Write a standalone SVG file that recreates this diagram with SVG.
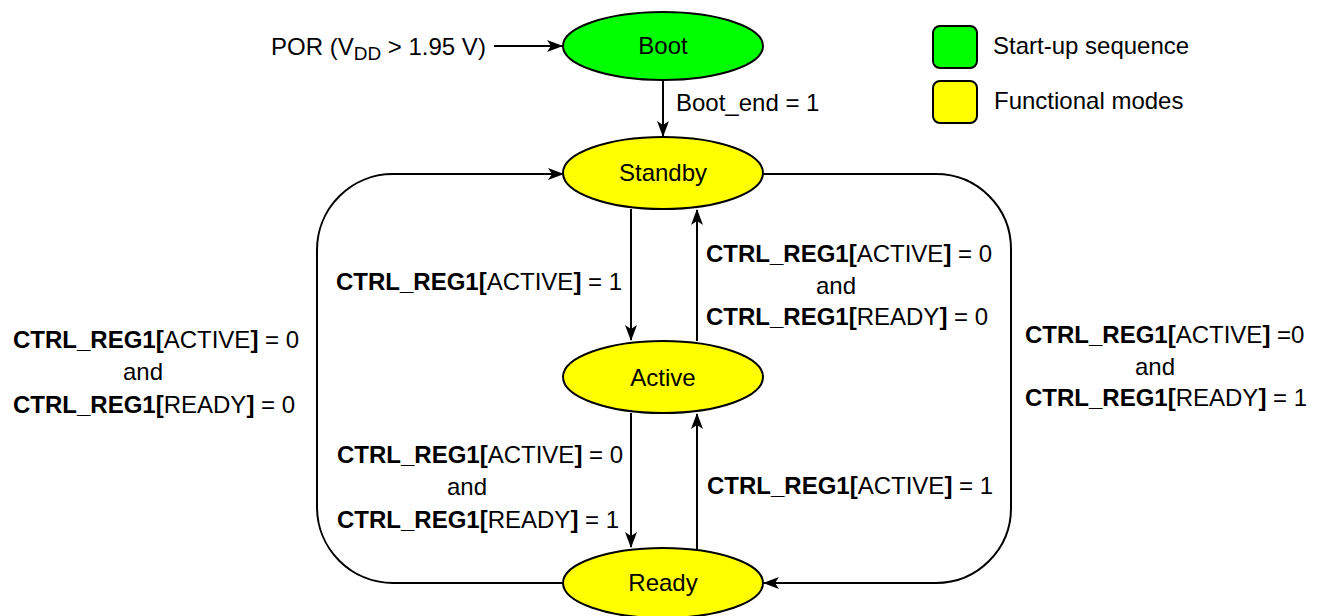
<svg xmlns="http://www.w3.org/2000/svg" width="1319" height="616" viewBox="0 0 1319 616">
<style>
text{font-family:"Liberation Sans",Arial,Helvetica,sans-serif;font-size:24px;fill:#000}
.b{font-weight:bold}
.node{stroke:#000;stroke-width:2}
.g{fill:#00ff00}
.y{fill:#ffff00}
.c{fill:none;stroke:#000;stroke-width:2}
.m{text-anchor:middle}
</style>
<defs>
<marker id="ah" markerUnits="userSpaceOnUse" markerWidth="16" markerHeight="12" refX="15" refY="6" orient="auto">
<path d="M0,0 L16,6 L0,12 L4,6 z" fill="#000"/>
</marker>
</defs>
<g id="connectors">
<path class="c" d="M494,46 H562" marker-end="url(#ah)"/>
<path class="c" d="M663,80 V136" marker-end="url(#ah)"/>
<path class="c" d="M631,209 V340" marker-end="url(#ah)"/>
<path class="c" d="M697,341 V210" marker-end="url(#ah)"/>
<path class="c" d="M631,413 V547" marker-end="url(#ah)"/>
<path class="c" d="M697,549 V414" marker-end="url(#ah)"/>
<path class="c" d="M563,583 H393 A76,76 0 0 1 317,507 V250 A76,76 0 0 1 393,174 H563" marker-end="url(#ah)"/>
<path class="c" d="M763,174 H936 A75,75 0 0 1 1011,249 V508 A75,75 0 0 1 936,583 H764" marker-end="url(#ah)"/>
</g>
<g id="por-label"><text x="271" y="55">POR (V<tspan font-size="19" dy="5">DD</tspan><tspan dy="-5"> &gt; 1.95 V)</tspan></text></g>
<g id="boot"><ellipse class="node g" cx="663" cy="46" rx="100" ry="34"/><text class="m" x="663" y="54">Boot</text></g>
<g id="standby"><ellipse class="node y" cx="663" cy="173" rx="100" ry="36"/><text class="m" x="663" y="181">Standby</text></g>
<g id="active"><ellipse class="node y" cx="663" cy="377" rx="100" ry="36"/><text class="m" x="663" y="386">Active</text></g>
<g id="ready"><ellipse class="node y" cx="663" cy="583" rx="100" ry="35"/><text class="m" x="663" y="591">Ready</text></g>
<g id="legend">
<rect class="node g" x="933" y="26" width="44" height="42" rx="7"/>
<text x="993" y="54">Start-up sequence</text>
<rect class="node y" x="933" y="81" width="44" height="42" rx="7"/>
<text x="994" y="109">Functional modes</text>
</g>
<g id="labels">
<text x="676" y="111">Boot_end = 1</text>
<text x="336" y="290"><tspan class="b">CTRL_REG1[</tspan>ACTIVE<tspan class="b">]</tspan> = 1</text>
<text x="706" y="262"><tspan class="b">CTRL_REG1[</tspan>ACTIVE<tspan class="b">]</tspan> = 0</text>
<text class="m" x="836" y="294">and</text>
<text x="706" y="325"><tspan class="b">CTRL_REG1[</tspan>READY<tspan class="b">]</tspan> = 0</text>
<text x="13" y="348"><tspan class="b">CTRL_REG1[</tspan>ACTIVE<tspan class="b">]</tspan> = 0</text>
<text class="m" x="143" y="380">and</text>
<text x="13" y="413"><tspan class="b">CTRL_REG1[</tspan>READY<tspan class="b">]</tspan> = 0</text>
<text x="1025" y="343"><tspan class="b">CTRL_REG1[</tspan>ACTIVE<tspan class="b">]</tspan> =0</text>
<text class="m" x="1155" y="375">and</text>
<text x="1025" y="406"><tspan class="b">CTRL_REG1[</tspan>READY<tspan class="b">]</tspan> = 1</text>
<text x="337" y="463"><tspan class="b">CTRL_REG1[</tspan>ACTIVE<tspan class="b">]</tspan> = 0</text>
<text class="m" x="467" y="495">and</text>
<text x="337" y="528"><tspan class="b">CTRL_REG1[</tspan>READY<tspan class="b">]</tspan> = 1</text>
<text x="707" y="494"><tspan class="b">CTRL_REG1[</tspan>ACTIVE<tspan class="b">]</tspan> = 1</text>
</g>
</svg>
